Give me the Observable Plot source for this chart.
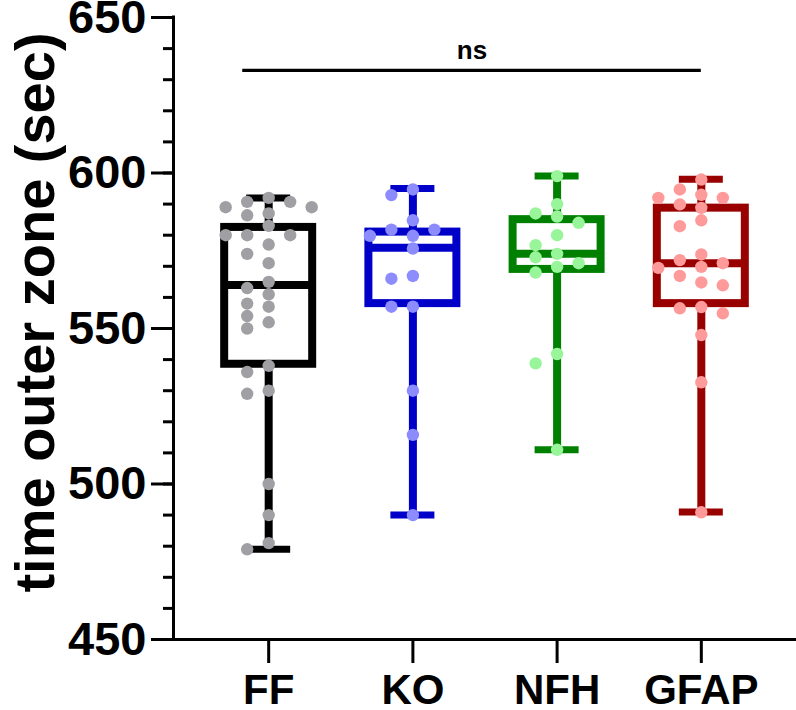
<!DOCTYPE html>
<html><head><meta charset="utf-8">
<script src="https://cdn.jsdelivr.net/npm/d3@7"></script>
<script src="https://cdn.jsdelivr.net/npm/@observablehq/plot@0.6"></script>
<style>body{margin:0;background:#fff}</style>
</head><body><div id="chart"></div>
<script>
// ---- data ----
const groups = ["FF", "KO", "NFH", "GFAP"];
const ffValues = [592, 590.7, 590.7, 589, 589, 587, 586.4, 583, 580, 580, 580, 577, 574, 571, 565, 563, 561, 558, 557, 554, 552, 550, 538, 536, 530, 529, 500, 490, 481, 479];
const koValues = [594.7, 592.9, 584.8, 581.8, 581.8, 579.8, 579.8, 575.7, 566.9, 566, 557, 557, 530, 515.8, 490];
const nfhValues = [599, 590, 587, 586, 584, 580, 576.8, 574, 572.9, 571, 569.8, 568, 541.8, 538.8, 511];
const gfapValues = [597.9, 594.7, 593, 592, 592, 589.9, 588.8, 584.8, 582.9, 573.8, 572, 571, 569.8, 569.5, 566.9, 564.8, 563.9, 556.9, 556.5, 554.9, 547.9, 532.7, 490.9];
const boxMin    = [479, 490, 511, 491];
const boxQ1     = [538.5, 558, 569, 558];
const boxMedian = [564, 576, 574, 571];
const boxQ3     = [582.5, 581, 585, 588.7];
const boxMax    = [592, 595, 599, 598];
const boxColors = ["#000000", "#0000c8", "#008000", "#990000"];
const dotColors = ["#a0a0a4", "#8c8cff", "#99f599", "#ff9a9a"];
const comparisons = [{from: "FF", to: "GFAP", y: 633, label: "ns"}];
const yTicks = [450, 500, 550, 600, 650];
const yLabel = "time outer zone (sec)";

// ---- layout ----
const W = 796, H = 710, mL = 173, mR = 0, mT = 17, mB = 71;
const xDomain = [-0.66, 3.66], yDomain = [450, 650];
const pxPerX = (W - mL - mR) / (xDomain[1] - xDomain[0]);
const pxPerY = (H - mT - mB) / (yDomain[1] - yDomain[0]);
const R = 6.2, STEP = 21.5;
const boxHalf = 44 / pxPerX, capHalf = 22 / pxPerX;

// column beeswarm computed from the values
function swarm(values, gi) {
  const placed = [], out = [];
  const order = values.map((v, i) => i).sort((a, b) => values[b] - values[a]);
  for (const i of order) {
    const v = values[i], py = v * pxPerY;
    for (let k = 0; k < 40; k++) {
      const col = k === 0 ? 0 : (k % 2 ? -Math.ceil(k / 2) : Math.ceil(k / 2));
      if (placed.every(p => p.c !== col || Math.abs(p.y - py) >= 2 * R - 1)) {
        placed.push({c: col, y: py});
        out.push({gi, value: v, x: gi + col * STEP / pxPerX});
        break;
      }
    }
  }
  return out;
}
const points = [ffValues, koValues, nfhValues, gfapValues].flatMap((vals, gi) => swarm(vals, gi));
const boxes = groups.map((g, i) => ({g, i, min: boxMin[i], q1: boxQ1[i], median: boxMedian[i], q3: boxQ3[i], max: boxMax[i], color: boxColors[i]}));

const chart = Plot.plot({
  width: W, height: H,
  marginLeft: mL, marginRight: mR, marginTop: mT, marginBottom: mB,
  x: {domain: xDomain, label: null},
  y: {domain: yDomain, label: null},
  color: {type: "identity"},
  style: {fontFamily: "'Liberation Sans', Arial, sans-serif", background: "white", color: "black", overflow: "visible"},
  marks: [
    // axes
    Plot.axisY({ticks: d3.range(450, 651, 10), tickSize: 10, tickFormat: () => "", strokeWidth: 3, label: null}),
    Plot.axisY({ticks: yTicks, tickSize: 22, tickPadding: 5, fontSize: 47, fontWeight: "bold", strokeWidth: 3, label: null}),
    Plot.axisX({ticks: [0, 1, 2, 3], tickFormat: i => groups[i], tickSize: 24, tickPadding: 11, fontSize: 42, fontWeight: "bold", strokeWidth: 3, label: null}),
    Plot.ruleX([{x: xDomain[0], y1: yDomain[0], y2: yDomain[1]}], {x: "x", y1: "y1", y2: "y2", strokeWidth: 3, strokeLinecap: "square"}),
    Plot.ruleY([{y: yDomain[0], x1: xDomain[0], x2: xDomain[1]}], {y: "y", x1: "x1", x2: "x2", strokeWidth: 3}),
    Plot.text([yLabel], {frameAnchor: "left", rotate: -90, dx: -137, dy: -16, textAnchor: "middle", fontSize: 56, fontWeight: "bold"}),
    // boxes
    Plot.ruleX(boxes, {x: "i", y1: "q3", y2: "max", stroke: "color", strokeWidth: 8}),
    Plot.ruleX(boxes, {x: "i", y1: "min", y2: "q1", stroke: "color", strokeWidth: 8}),
    Plot.ruleY(boxes, {y: "max", x1: d => d.i - capHalf, x2: d => d.i + capHalf, stroke: "color", strokeWidth: 7}),
    Plot.ruleY(boxes, {y: "min", x1: d => d.i - capHalf, x2: d => d.i + capHalf, stroke: "color", strokeWidth: 7}),
    Plot.rect(boxes, {x1: d => d.i - boxHalf, x2: d => d.i + boxHalf, y1: "q1", y2: "q3", fill: "none", stroke: "color", strokeWidth: 8}),
    Plot.ruleY(boxes, {y: "median", x1: d => d.i - boxHalf, x2: d => d.i + boxHalf, stroke: "color", strokeWidth: 8}),
    // points
    Plot.dot(points, {x: "x", y: "value", r: R, fill: d => dotColors[d.gi], stroke: "none"}),
    // significance bar
    Plot.ruleY(comparisons, {y: "y", x1: d => groups.indexOf(d.from) - 0.18, x2: d => groups.indexOf(d.to), strokeWidth: 3.3}),
    Plot.text(comparisons, {x: d => (groups.indexOf(d.from) - 0.18 + groups.indexOf(d.to)) / 2, y: "y", text: "label", dy: -11, lineAnchor: "bottom", fontSize: 26, fontWeight: "bold"})
  ]
});
document.getElementById("chart").appendChild(chart);
</script>
</body></html>
